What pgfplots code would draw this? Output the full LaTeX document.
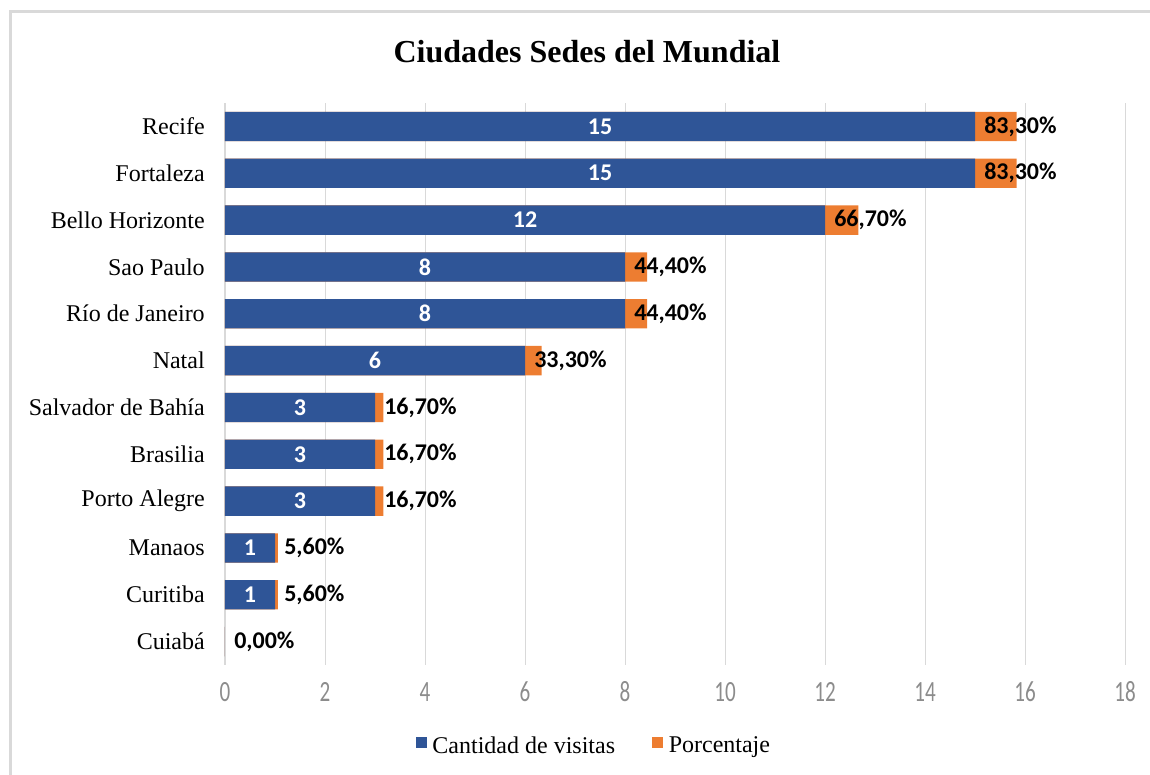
\documentclass[border=0pt]{standalone}
\usepackage{pgfplots}
\pgfplotsset{compat=1.18}
\usepackage{pgfplotstable}
\usepackage{fontspec}
\setmainfont{Liberation Serif}
\newfontfamily\lblfont{Carlito}
\newfontfamily\tickfont[FakeStretch=0.72]{Carlito}
\definecolor{cblue}{HTML}{2F5597}
\definecolor{corange}{HTML}{ED7D31}
\definecolor{cgrid}{HTML}{D9D9D9}
\definecolor{ctick}{HTML}{8C8C8C}

\pgfplotstableread{
idx blue total
0 15 15.833
1 15 15.833
2 12 12.667
3 8 8.444
4 8 8.444
5 6 6.333
6 3 3.167
7 3 3.167
8 3 3.167
9 1 1.056
10 1 1.056
11 0 0
}\data

\begin{document}
\begin{tikzpicture}[x=0.75pt,y=0.75pt]
\path[use as bounding box] (0,0) rectangle (1150,775);
\draw[cgrid, line width=2.25pt] (10,0) -- (10,763) -- (1150,763);
\node[font=\bfseries\fontsize{24}{28}\selectfont, anchor=base] at (587,712) {Ciudades Sedes del Mundial};
\begin{axis}[
  at={(168.75pt,82.5pt)}, anchor=south west,
  scale only axis, width=675pt, height=421.5pt,
  xmin=0, xmax=18, ymin=-0.5, ymax=11.5, y dir=reverse,
  xtick={0,2,...,18}, ytick={0,...,11},
  /pgf/number format/assume math mode=true,
  yticklabels={Recife, Fortaleza, Bello Horizonte, Sao Paulo, Río de Janeiro, Natal, Salvador de Bahía, Brasilia, Porto Alegre, Manaos, Curitiba, Cuiabá},
  axis line style={draw=none}, major tick length=0pt,
  xmajorgrids, major grid style={cgrid, line width=0.75pt},
  xticklabel style={font=\tickfont\fontsize{22}{22}\selectfont, text=ctick, anchor=center, yshift=-20.25pt},
  yticklabel style={font=\fontsize{18}{18}\selectfont, anchor=east, inner sep=0pt, xshift=-15pt},
  legend columns=2,
  legend style={at={(0.409,-0.144)}, anchor=center, draw=none, fill=none,
    font=\fontsize{18}{18}\selectfont, inner sep=0pt, column sep=0pt,
    nodes={inner sep=0pt},
    /tikz/column 1/.style={column sep=4pt},
    /tikz/column 2/.style={column sep=28pt},
    /tikz/column 3/.style={column sep=4pt}},
  legend image code/.code={\fill[#1] (0pt,-1.5pt) rectangle (8.25pt,6.75pt);},
]
\addlegendimage{fill=cblue, draw=none}
\addlegendentry{Cantidad de visitas}
\addlegendimage{fill=corange, draw=none}
\addlegendentry{Porcentaje}

\addplot[xbar, bar width=22pt, bar shift=0pt, fill=corange, draw=none, forget plot] table[x=total, y=idx] {\data};
\addplot[xbar, bar width=22pt, bar shift=0pt, fill=cblue, draw=none, forget plot] table[x=blue, y=idx] {\data};

\addplot[draw=none, mark=none, forget plot, point meta=explicit symbolic,
  nodes near coords,
  every node near coord/.style={anchor=center, text=white, font=\lblfont\bfseries\fontsize{18}{18}\selectfont}]
  coordinates {(7.5,0)[15] (7.5,1)[15] (6,2)[12] (4,3)[8] (4,4)[8] (3,5)[6] (1.5,6)[3] (1.5,7)[3] (1.5,8)[3] (0.5,9)[1] (0.5,10)[1]};

\addplot[draw=none, mark=none, forget plot, point meta=explicit symbolic,
  nodes near coords,
  every node near coord/.style={anchor=west, inner sep=0pt, xshift=6.75pt, text=black, font=\lblfont\bfseries\fontsize{18}{18}\selectfont}]
  coordinates {(15,0)[83,30\%] (15,1)[83,30\%] (12,2)[66,70\%] (8,3)[44,40\%] (8,4)[44,40\%] (6,5)[33,30\%] (3,6)[16,70\%] (3,7)[16,70\%] (3,8)[16,70\%] (1,9)[5,60\%] (1,10)[5,60\%] (0,11)[0,00\%]};
\end{axis}
\end{tikzpicture}
\end{document}
